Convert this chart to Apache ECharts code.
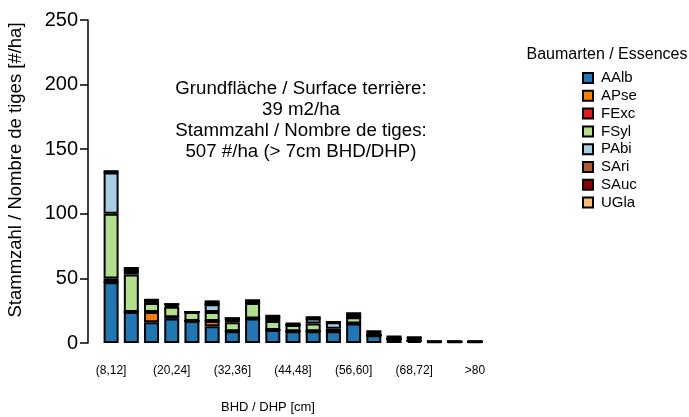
<!DOCTYPE html>
<html><head><meta charset="utf-8">
<script src="https://cdn.jsdelivr.net/npm/echarts@6/dist/echarts.min.js"></script>
<style>html,body{margin:0;padding:0;background:#fff}#c{width:689px;height:417px}</style>
</head><body><div id="c"></div>
<script>
const categories = ['(8,12]','(12,16]','(16,20]','(20,24]','(24,28]','(28,32]','(32,36]','(36,40]','(40,44]','(44,48]','(48,52]','(52,56]','(56,60]','(60,64]','(64,68]','(68,72]','(72,76]','(76,80]','>80'];
const AAlb = [47, 24, 16, 19, 17, 13, 9, 19, 10, 9, 9, 9, 15, 6, 3, 1.5, 1, 1, 1];
const APse = [0, 0, 8, 1, 0, 4, 0, 0, 0, 0, 0, 0, 0, 0, 0, 0, 0, 0, 0];
const FExc = [3, 0, 0, 0, 0, 0, 0, 0, 0, 0, 0, 0, 0, 0, 0, 0, 0, 0, 0];
const FSyl = [50, 29, 7, 8, 7, 7, 7, 12, 7, 5, 6, 2, 5, 0, 0, 0, 0, 0, 0];
const PAbi = [32, 3, 2, 1, 0, 6, 3, 0, 3, 0, 4, 5, 0, 0, 0, 0, 0, 0, 0];
const SAri = [0, 0, 0, 1, 0, 0, 0, 0, 0, 0, 0, 0, 0, 0, 0, 0, 0, 0, 0];
const SAuc = [1, 2, 0, 0, 0, 0, 0, 2, 1, 1, 1, 0, 3, 3, 2, 3, 0, 0, 0];
const UGla = [0, 0, 1, 0, 0, 3, 0, 0, 0, 0, 0, 0, 0, 0, 0, 0, 0, 0, 0];
const yTicks = [0, 50, 100, 150, 200, 250];

const speciesNames = ['AAlb','APse','FExc','FSyl','PAbi','SAri','SAuc','UGla'];
const speciesData = [AAlb, APse, FExc, FSyl, PAbi, SAri, SAuc, UGla];
const colors = ['#1f78b4','#ff7f00','#e31a1c','#b2df8a','#a6cee3','#b15928','#8b0000','#fdbf6f'];
const FONT = 'Liberation Sans, Arial, sans-serif';

const chart = echarts.init(document.getElementById('c'));
chart.setOption({
  animation: false,
  color: colors,
  textStyle: { fontFamily: FONT, color: '#000' },
  grid: { left: 101, right: 204, top: 20, bottom: 74, containLabel: false },
  xAxis: {
    type: 'category', data: categories,
    axisLine: { show: false }, axisTick: { show: false },
    axisLabel: { interval: 2, fontSize: 12, color: '#000', margin: 22, fontFamily: FONT }
  },
  yAxis: {
    type: 'value', min: yTicks[0], max: yTicks[yTicks.length-1], interval: 50, offset: 13,
    splitLine: { show: false },
    axisLine: { show: true, lineStyle: { color: '#000', width: 1.5 } },
    axisTick: { show: true, inside: false, length: 8, lineStyle: { color: '#000', width: 1.5 } },
    axisLabel: { fontSize: 20, color: '#000', margin: 10, fontFamily: FONT }
  },
  legend: {
    orient: 'vertical', left: 582, top: 70.5, padding: 0, itemWidth: 10, itemHeight: 10, itemGap: 2.8,
    icon: 'rect',
    textStyle: { fontSize: 15, color: '#000', fontFamily: FONT, padding: [0,0,0,3] },
    data: speciesNames
  },
  graphic: [
    { type: 'text', x: 607, y: 55, style: { text: 'Baumarten / Essences', font: '16px ' + FONT, fill: '#000', textAlign: 'center', textVerticalAlign: 'middle' } },
    { type: 'text', x: 301, y: 89, style: { text: 'Grundfläche / Surface terrière:', font: '18.7px ' + FONT, fill: '#000', textAlign: 'center', textVerticalAlign: 'middle' } },
    { type: 'text', x: 301, y: 110, style: { text: '39 m2/ha', font: '18.7px ' + FONT, fill: '#000', textAlign: 'center', textVerticalAlign: 'middle' } },
    { type: 'text', x: 301, y: 131, style: { text: 'Stammzahl / Nombre de tiges:', font: '18.7px ' + FONT, fill: '#000', textAlign: 'center', textVerticalAlign: 'middle' } },
    { type: 'text', x: 301, y: 152, style: { text: '507 #/ha (> 7cm BHD/DHP)', font: '18.7px ' + FONT, fill: '#000', textAlign: 'center', textVerticalAlign: 'middle' } },
    { type: 'text', x: 268, y: 407, style: { text: 'BHD / DHP [cm]', font: '13px ' + FONT, fill: '#000', textAlign: 'center', textVerticalAlign: 'middle' } },
    { type: 'text', x: 16, y: 170, rotation: Math.PI/2, style: { text: 'Stammzahl / Nombre de tiges [#/ha]', font: '18.5px ' + FONT, fill: '#000', textAlign: 'center', textVerticalAlign: 'middle' } }
  ],
  series: speciesNames.map((n, i) => ({
    name: n, type: 'bar', stack: 'total', barWidth: 15,
    data: speciesData[i],
    itemStyle: { color: colors[i], borderColor: '#000', borderWidth: 2 },
    emphasis: { disabled: true }
  }))
});
</script></body></html>
